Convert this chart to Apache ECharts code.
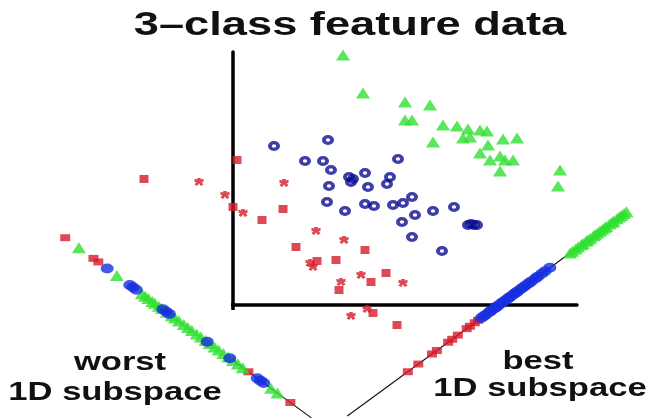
<!DOCTYPE html>
<html><head><meta charset="utf-8">
<script src="https://cdn.jsdelivr.net/npm/echarts@6/dist/echarts.min.js"></script>
<style>html,body{margin:0;padding:0;background:#fff}#c{width:665px;height:419px}</style>
</head><body><div id="c"></div>
<script>
// 2-D feature points [x, y] (origin at the corner of the drawn axes)
const redPoints = [[-89,126],[-34,123],[4,145],[-8,110],[0,98],[10,92],[29,85],[51,122],[50,96],[83,74],[63,58],[111,65],[132,55],[77,42],[84,44],[80,38],[103,45],[128,30],[153,32],[108,23],[138,23],[170,22],[106,15],[134,-4],[140,-8],[118,-11],[164,-20]];
const bluePoints = [[41,159],[95,165],[72,144],[90,144],[98,135],[165,146],[116,128],[120,126],[118,123],[132,132],[135,118],[157,128],[154,121],[96,119],[94,103],[132,101],[141,99],[112,94],[160,100],[170,102],[179,108],[182,90],[200,94],[221,98],[169,83],[179,68],[209,54],[235,80],[238,81],[241,80],[244,80]];
const greenPoints = [[110,250],[130,212],[172,203],[197,200],[172,185],[179,185],[210,180],[224,179],[235,176],[247,175],[254,174],[200,163],[230,167],[237,168],[270,166],[284,167],[255,160],[247,152],[257,145],[267,149],[272,145],[280,145],[267,134],[327,135],[325,119]];
// 1-D positions along the projection lines
const bestRed = [-113,-100,-83,-77,-63,-58,-51,-40,-36,-30,-26];
const bestBlue = [-22,-19,-16,-12,-10,-6,-4,-1,3,5,9,12,14,18,21,23,27,30,33,37,40,45,48,53,57,63];
const bestGreen = [88,91,95,98,102,104,108,110,113,117,119,122,125,128,131,133,137,140,142,146,149,152,155,158];
const worstRed = [30,65,71,257,309];
const worstBlue = [82,110,114,118,151,155,159,206,234,268,272,276];
const worstGreen = [47,94,125,129,133,138,141,146,150,156,162,166,171,177,182,187,193,198,204,209,215,220,226,232,238,244,250,285,293];

const bestLine = {x0: 266, y0: 0, angle: 36.2, from: -188, to: 230};
const worstLine = {x0: -192, y0: 85, angle: -36.2, from: 0, to: 335};

function along(line, t) {
  const a = line.angle * Math.PI / 180;
  return [line.x0 + t * Math.cos(a), line.y0 + t * Math.sin(a)];
}
const STAR = 'path://M3,0L7,0L7,2L10,1L10,5L8,5L10,8L7,10L5,7L3,10L0,8L2,5L0,5L0,1L3,2Z';
const RING = 'path://M0,5a5,5 0 1,0 10,0a5,5 0 1,0 -10,0Z M3.2,5a1.8,1.8 0 1,1 3.6,0a1.8,1.8 0 1,1 -3.6,0Z';
const RED = '#d61c2c', BLUE_RING = '#0e0e92', BLUE = '#1530e0', GREEN = '#30e030';

const chart = echarts.init(document.getElementById('c'));
const hidden = {axisTick:{show:false}, axisLabel:{show:false}, splitLine:{show:false}};
const redSym = (v, p) => (p.dataIndex % 2 ? STAR : 'rect');

function lineSeries(line) {
  return {type:'line', data:[along(line, line.from), along(line, line.to)], symbol:'none', clip:false,
    lineStyle:{color:'#111', width:1.1}, z:1, silent:true, animation:false};
}
function proj(line, arr, style) {
  return Object.assign({type:'scatter', clip:false, animation:false, z:3,
    data: arr.map(t => along(line, t))}, style);
}
const redProj = {symbol:'rect', symbolSize:[10,7], itemStyle:{color:RED}};
const blueProj = {symbol:'circle', symbolSize:[13,10], itemStyle:{color:BLUE}};
const greenProj = {symbol:'triangle', symbolSize:[14,11], itemStyle:{color:GREEN}};
const FONT = 'bold 26px "Liberation Sans", Arial, sans-serif';

chart.setOption({
  animation:false,
  grid:{left:233, top:52, width:344, height:253},
  xAxis:Object.assign({type:'value', min:0, max:344,
    axisLine:{show:true, onZero:false, lineStyle:{color:'#000', width:3.5}}}, hidden),
  yAxis:Object.assign({type:'value', min:0, max:253,
    axisLine:{show:true, onZero:false, lineStyle:{color:'#000', width:3.5}}}, hidden),
  graphic:[
    {type:'text', x:350, y:26, scaleX:1.33, style:{text:'3–class feature data', x:0, y:0, textAlign:'center', textVerticalAlign:'middle', font:'bold 34px "Liberation Sans", Arial, sans-serif', fill:'#111'}},
    {type:'text', x:120, y:363, scaleX:1.33, style:{text:'worst', x:0, y:0, textAlign:'center', textVerticalAlign:'middle', font:FONT, fill:'#111'}},
    {type:'text', x:115, y:393, scaleX:1.33, style:{text:'1D subspace', x:0, y:0, textAlign:'center', textVerticalAlign:'middle', font:FONT, fill:'#111'}},
    {type:'text', x:538, y:362, scaleX:1.33, style:{text:'best', x:0, y:0, textAlign:'center', textVerticalAlign:'middle', font:FONT, fill:'#111'}},
    {type:'text', x:540, y:389, scaleX:1.33, style:{text:'1D subspace', x:0, y:0, textAlign:'center', textVerticalAlign:'middle', font:FONT, fill:'#111'}}
  ],
  series:[
    {type:'line', data:[[-8,0],[0,0],[0,-5]], symbol:'none', clip:false, lineStyle:{color:'#000', width:3.5}, z:1, silent:true},
    lineSeries(bestLine),
    lineSeries(worstLine),
    {type:'scatter', data:redPoints, clip:false, symbol:redSym, symbolSize:[9,8], itemStyle:{color:RED}, z:3},
    {type:'scatter', data:bluePoints, clip:false, symbol:RING, symbolKeepAspect:false, symbolSize:[12,10], itemStyle:{color:BLUE_RING}, z:3},
    {type:'scatter', data:greenPoints, clip:false, symbol:'triangle', symbolSize:[14,11], itemStyle:{color:GREEN}, z:3},
    proj(bestLine, bestRed, redProj),
    proj(bestLine, bestBlue, blueProj),
    proj(bestLine, bestGreen, greenProj),
    proj(worstLine, worstRed, redProj),
    proj(worstLine, worstGreen, greenProj),
    proj(worstLine, worstBlue, blueProj)
  ]
});
</script></body></html>
